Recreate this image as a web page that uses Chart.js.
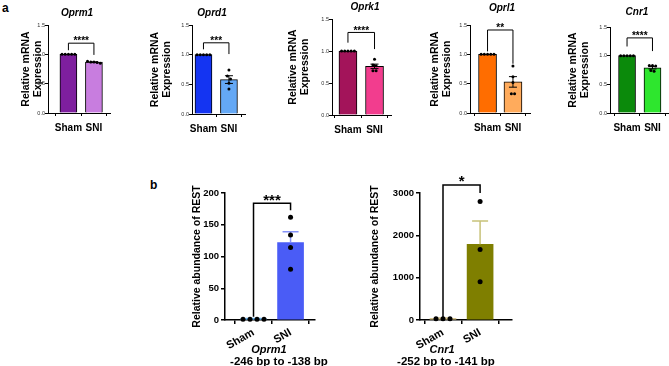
<!DOCTYPE html>
<html><head><meta charset="utf-8">
<script src="https://cdn.jsdelivr.net/npm/chart.js@4.4.1/dist/chart.umd.min.js"></script>
<style>
html,body{margin:0;padding:0;background:#fff;width:669px;height:366px;overflow:hidden;position:relative;font-family:"Liberation Sans",Arial,sans-serif}
.lbl{position:absolute;font-weight:bold;font-size:12px;color:#000;line-height:12px}
</style></head><body>
<div class="lbl" style="left:2px;top:2px">a</div>
<div class="lbl" style="left:150px;top:179px">b</div>
<script>
const FONT = '"Liberation Sans", Arial, Helvetica, sans-serif';
Chart.defaults.font.family = FONT;
Chart.defaults.color = '#000';

// ---------- data ----------
const groups = ['Sham', 'SNI'];
const geneTitlesA = ['Oprm1', 'Oprd1', 'Oprk1', 'Oprl1', 'Cnr1'];
const yTicksA = [0, 0.5, 1.0, 1.5];
const yTitleA = ['Relative mRNA', 'Expression'];

const oprm1Mean = [1.00, 0.866];
const oprm1Sem  = [0.000, 0.006];
const oprm1Pts  = [[1, 1, 1, 1, 1], [0.88, 0.87, 0.87, 0.86, 0.85]];

const oprd1Mean = [1.00, 0.58];
const oprd1Sem  = [0.000, 0.065];
const oprd1Pts  = [[1, 1, 1, 1, 1], [0.74, 0.64, 0.59, 0.52, 0.42]];

const oprk1Mean = [1.00, 0.76];
const oprk1Sem  = [0.000, 0.035];
const oprk1Pts  = [[1, 1, 1, 1, 1], [0.87, 0.78, 0.77, 0.69, 0.69]];

const oprl1Mean = [1.00, 0.53];
const oprl1Sem  = [0.000, 0.09];
const oprl1Pts  = [[1, 1, 1, 1, 1], [0.80, 0.62, 0.52, 0.33, 0.33]];

const cnr1Mean = [1.00, 0.79];
const cnr1Sem  = [0.000, 0.022];
const cnr1Pts  = [[1, 1, 1, 1, 1], [0.83, 0.83, 0.82, 0.74, 0.73]];

const starsA = ['****', '***', '****', '**', '****'];
// bracket levels [top, left leg end, right leg end]
const bracketA = [[1.19, 1.07, 0.99], [1.20, 1.09, 1.01], [1.29, 1.13, 1.03], [1.415, 1.05, 0.84], [1.31, 1.16, 1.08]];

const yTitleB = 'Relative abundance of REST';
const yTicksB1 = [0, 50, 100, 150, 200];
const yTicksB2 = [0, 1000, 2000, 3000];

const restOprm1Mean = [2, 122];
const restOprm1Sem  = [0.3, 17];
const restOprm1Pts  = [[1, 1, 1, 1], [162, 134, 114, 80]];

const restCnr1Mean = [40, 1788];
const restCnr1Sem  = [5, 551];
const restCnr1Pts  = [[30, 30, 30], [2800, 1663, 902]];

const starsB = ['***', '*'];
const bracketB = [[184, 5, 173], [3190, 60, 3000]];
const captionB1 = ['Oprm1', '-246 bp to -138 bp'];
const captionB2 = ['Cnr1', '-252 bp to -141 bp'];

// ---------- drawing ----------
function drawOverlay(chart, c) {
  const ctx = chart.ctx, xs = chart.scales.x, ys = chart.scales.y;
  ctx.save();
  c.mean.forEach((m, i) => {
    const s = c.sem[i];
    if (!s) return;
    const x = xs.getPixelForValue(i);
    const yu = ys.getPixelForValue(m + s), ym = ys.getPixelForValue(m), yd = ys.getPixelForValue(m - s);
    ctx.strokeStyle = c.errColors[i];
    ctx.lineWidth = c.errW;
    ctx.beginPath();
    ctx.moveTo(x, c.errBoth ? yd : ym); ctx.lineTo(x, yu);
    ctx.moveTo(x - c.cap / 2, yu); ctx.lineTo(x + c.cap / 2, yu);
    if (c.errBoth) { ctx.moveTo(x - c.cap / 2, yd); ctx.lineTo(x + c.cap / 2, yd); }
    ctx.stroke();
  });
  ctx.fillStyle = '#000';
  c.pts.forEach((arr, i) => {
    const cx = xs.getPixelForValue(i);
    const items = arr.map(v => ({ v, y: ys.getPixelForValue(v) })).sort((a, b) => a.y - b.y);
    const clusters = []; let cur = [];
    items.forEach(it => {
      if (cur.length && it.y - cur[cur.length - 1].y >= c.dotGap) { clusters.push(cur); cur = []; }
      cur.push(it);
    });
    if (cur.length) clusters.push(cur);
    clusters.forEach(cl => cl.forEach((it, j) => {
      const x = cx + (j - (cl.length - 1) / 2) * c.dotGap;
      ctx.beginPath(); ctx.arc(x, it.y, c.r, 0, Math.PI * 2); ctx.fill();
    }));
  });
  const b = c.bracket;
  const xl = xs.getPixelForValue(0), xr = xs.getPixelForValue(1);
  const yt = ys.getPixelForValue(b[0]), yl = ys.getPixelForValue(b[1]), yr = ys.getPixelForValue(b[2]);
  ctx.strokeStyle = '#000'; ctx.lineWidth = c.brW;
  ctx.beginPath(); ctx.moveTo(xl, yl); ctx.lineTo(xl, yt); ctx.lineTo(xr, yt); ctx.lineTo(xr, yr); ctx.stroke();
  ctx.font = c.starFont; ctx.textAlign = 'center'; ctx.textBaseline = 'alphabetic';
  ctx.fillText(c.stars, (xl + xr) / 2, yt + c.starDy);
  (c.texts || []).forEach(t => {
    ctx.font = t.font; ctx.textAlign = 'center'; ctx.textBaseline = 'middle'; ctx.fillStyle = '#000';
    ctx.fillText(t.t, t.x - c.left, t.y - c.top);
  });
  ctx.restore();
}

function makeChart(c, idx) {
  const wrap = document.createElement('div');
  wrap.style.cssText = `position:absolute;left:${c.left}px;top:${c.top}px;width:${c.width}px;height:${c.height}px`;
  const cv = document.createElement('canvas');
  wrap.appendChild(cv); document.body.appendChild(wrap);
  const Yw = c.axisX - c.left, Xh = c.top + c.height - c.bottomY;
  const padR = c.left + c.width - c.rightX, padT = c.topY - c.top;
  new Chart(cv, {
    type: 'bar',
    data: { datasets: [{
      data: c.mean.map((m, i) => ({ x: i, y: m })),
      backgroundColor: c.colors, borderColor: '#000', borderWidth: c.barBorder,
      barThickness: c.barW, borderSkipped: 'bottom'
    }] },
    options: {
      responsive: true, maintainAspectRatio: false, animation: false, events: [],
      layout: { padding: { top: padT, right: padR, left: 0, bottom: 0 } },
      plugins: { legend: { display: false }, tooltip: { enabled: false }, title: { display: false } },
      scales: {
        x: {
          type: 'linear', min: c.xmin, max: c.xmax, offset: false,
          afterBuildTicks: s => { s.ticks = groups.map((g, i) => ({ value: i })); },
          afterFit: s => { s.height = Xh; },
          ticks: { callback: v => groups[v], font: c.xFont, color: '#000', padding: c.xPad,
                   minRotation: c.rot, maxRotation: c.rot, autoSkip: false, labelOffset: c.xLabelOffset || 0 },
          grid: { display: true, drawOnChartArea: false, drawTicks: true, tickLength: c.tick, color: '#000', lineWidth: c.axisW },
          border: { display: true, color: '#000', width: c.axisW }
        },
        y: {
          min: 0, max: c.yTicks[c.yTicks.length - 1],
          afterBuildTicks: s => { s.ticks = c.yTicks.map(v => ({ value: v })); },
          afterFit: s => { s.width = Yw; },
          ticks: { callback: v => c.fmt(v), font: c.yFont, color: c.yTickColor, padding: c.yPad },
          grid: { display: true, drawOnChartArea: false, drawTicks: true, tickLength: c.tick, color: '#000', lineWidth: c.axisW },
          border: { display: true, color: '#000', width: c.axisW },
          title: { display: true, text: c.yTitle, font: c.yTitleFont, color: '#000', padding: { top: c.yTitlePad, bottom: 0 } }
        }
      }
    },
    plugins: [{ id: 'ov' + idx, afterDatasetsDraw(chart) { drawOverlay(chart, c); } }]
  });
}

const commonA = {
  top: 0, height: 140, barBorder: 1, tick: 3, axisW: 1,
  xFont: { size: 10, weight: 'bold' }, xPad: 6, rot: 0,
  yFont: { size: 5.5 }, yTickColor: '#333', yPad: 0, fmt: v => v.toFixed(1),
  yTitle: yTitleA, yTitleFont: { size: 10.5, weight: 'bold', lineHeight: 1.15 },
  errW: 1, errBoth: true, cap: 8, r: 1.5, dotGap: 3.2, brW: 1,
  starFont: 'bold 10px ' + FONT, starDy: 1.3, yTicks: yTicksA
};
const titleFont = 'italic bold 10px ' + FONT;

const panelsA = [
  { left: 0, width: 113, axisX: 48, topY: 25, bottomY: 113, rightX: 110, xmin: -0.80, xmax: 1.63, barW: 17, yTitlePad: 20,
    mean: oprm1Mean, sem: oprm1Sem, pts: oprm1Pts, colors: ['#7e1f9e', '#c87ddf'], errColors: ['#000', '#000'],
    bracket: bracketA[0], stars: starsA[0], texts: [{ t: geneTitlesA[0], x: 77, y: 13, font: titleFont }] },
  { left: 120, width: 130, axisX: 192, topY: 25, bottomY: 114, rightX: 245, xmin: -0.45, xmax: 1.63, barW: 17, yTitlePad: 29,
    mean: oprd1Mean, sem: oprd1Sem, pts: oprd1Pts, colors: ['#1434f2', '#64a8f5'], errColors: ['#000', '#000'],
    bracket: bracketA[1], stars: starsA[1], texts: [{ t: geneTitlesA[1], x: 212, y: 13, font: titleFont }] },
  { left: 255, width: 140, axisX: 332, topY: 19, bottomY: 115, rightX: 391, xmin: -0.60, xmax: 1.62, barW: 18, yTitlePad: 32,
    mean: oprk1Mean, sem: oprk1Sem, pts: oprk1Pts, colors: ['#a3145a', '#f23d8e'], errColors: ['#000', '#000'],
    bracket: bracketA[2], stars: starsA[2], texts: [{ t: geneTitlesA[2], x: 365, y: 7, font: titleFont }] },
  { left: 395, width: 140, axisX: 470, topY: 25, bottomY: 113, rightX: 530, xmin: -0.69, xmax: 1.67, barW: 18, yTitlePad: 34,
    mean: oprl1Mean, sem: oprl1Sem, pts: oprl1Pts, colors: ['#ff6d00', '#ffab5c'], errColors: ['#000', '#000'],
    bracket: bracketA[3], stars: starsA[3], texts: [{ t: geneTitlesA[3], x: 502, y: 8, font: titleFont }] },
  { left: 535, width: 134, axisX: 610, topY: 27, bottomY: 113, rightX: 668, xmin: -0.67, xmax: 1.61, barW: 17, yTitlePad: 32,
    mean: cnr1Mean, sem: cnr1Sem, pts: cnr1Pts, colors: ['#0b8a0b', '#2ee62e'], errColors: ['#000', '#000'],
    bracket: bracketA[4], stars: starsA[4], texts: [{ t: geneTitlesA[4], x: 637, y: 12, font: titleFont }] }
];

const commonB = {
  top: 175, height: 191, barBorder: 0, tick: 4, axisW: 1.5,
  xFont: { size: 11, weight: 'bold' }, xPad: 2, rot: 30,
  yFont: { size: 9.5, weight: 'bold' }, yTickColor: '#000', yPad: 2, fmt: v => String(v),
  yTitle: yTitleB, yTitleFont: { size: 10.5, weight: 'bold', lineHeight: 1.2 },
  errW: 1.5, errBoth: false, cap: 16, r: 2.5, dotGap: 7, brW: 1.5,
  starFont: 'bold 15px ' + FONT, starDy: 1.5
};
const capItalic = 'italic bold 11px ' + FONT, capBold = 'bold 11.5px ' + FONT;

const panelsB = [
  { left: 150, width: 190, axisX: 225, topY: 193, bottomY: 320, rightX: 315, xmin: -0.77, xmax: 1.66, barW: 26, yTitlePad: 41,
    yTicks: yTicksB1, mean: restOprm1Mean, sem: restOprm1Sem, pts: restOprm1Pts,
    colors: ['#6db6f2', '#4a5cf6'], errColors: ['#6db6f2', '#8592f8'],
    bracket: bracketB[0], stars: starsB[0],
    texts: [{ t: captionB1[0], x: 269, y: 350, font: capItalic }, { t: captionB1[1], x: 279, y: 362, font: capBold }] },
  { left: 340, width: 200, axisX: 420, topY: 193, bottomY: 320, rightX: 512, xmin: -0.62, xmax: 1.86, barW: 26, yTitlePad: 29,
    yTicks: yTicksB2, mean: restCnr1Mean, sem: restCnr1Sem, pts: restCnr1Pts,
    colors: ['#d6c48c', '#7f7f00'], errColors: ['#d6c48c', '#c8c27a'],
    bracket: bracketB[1], stars: starsB[1],
    texts: [{ t: captionB2[0], x: 442, y: 350, font: capItalic }, { t: captionB2[1], x: 446, y: 362, font: capBold }] }
];

panelsA.forEach((p, i) => makeChart(Object.assign({}, commonA, p), i));
panelsB.forEach((p, i) => makeChart(Object.assign({}, commonB, p), 10 + i));
</script>
</body></html>
